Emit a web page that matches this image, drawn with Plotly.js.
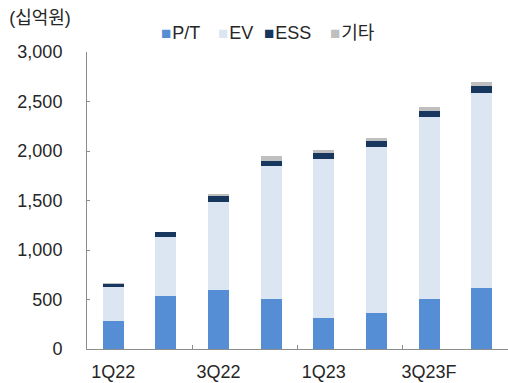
<!DOCTYPE html>
<html>
<head>
<meta charset="utf-8">
<script src="https://cdn.plot.ly/plotly-3.0.1.min.js"></script>
<style>
  html, body { margin: 0; padding: 0; background: #fff; }
  #chart { width: 508px; height: 383px; }
</style>
</head>
<body>
<div id="chart"></div>
<script>
// Quarterly sales by segment (KRW bn)
const quarters = ['1Q22', '2Q22', '3Q22', '4Q22', '1Q23', '2Q23', '3Q23F', '4Q23F'];
const ptSales  = [283, 535, 596, 502, 316, 364, 508, 616];
const evSales  = [346, 593, 886, 1343, 1606, 1681, 1832, 1971];
const essSales = [30, 51, 66, 54, 55, 55, 67, 71];
const etcSales = [5, 6, 17, 48, 32, 33, 35, 38];

const seriesNames  = ['P/T', 'EV', 'ESS', '기타'];
const seriesValues = [ptSales, evSales, essSales, etcSales];
const seriesColors = ['#558ED5', '#DCE6F2', '#17375E', '#BFBFBF'];

const yTicks = [0, 500, 1000, 1500, 2000, 2500, 3000];
const yTickText = ['0', '500', '1,000', '1,500', '2,000', '2,500', '3,000'];

const FONT = '"Liberation Sans", Arial, "Noto Sans CJK KR", sans-serif';
const TEXT = '#262626';
const AXIS = '#8C8C8C';

const traces = seriesNames.map((name, i) => ({
  type: 'bar',
  name: name,
  x: quarters,
  y: seriesValues[i],
  marker: { color: seriesColors[i] },
  showlegend: false,
  hoverinfo: 'x+y+name'
}));

// Legend keys drawn as text: coloured square followed by the series name
const legendX = [0.172, 0.307, 0.416, 0.573];
const legendItems = seriesNames.map((name, i) => ({
  xref: 'paper', yref: 'paper',
  x: legendX[i], y: 1.064,
  xanchor: 'left', yanchor: 'middle',
  showarrow: false,
  text: '<span style="font-size:17px;color:' + seriesColors[i] + '">■</span>' +
        '<span style="font-size:3px"> </span>' + name,
  font: { family: FONT, size: 18, color: TEXT }
}));

const layout = {
  width: 508,
  height: 383,
  margin: { l: 87, r: 0, t: 52, b: 34 },
  paper_bgcolor: '#ffffff',
  plot_bgcolor: '#ffffff',
  barmode: 'stack',
  bargap: 0.6,
  font: { family: FONT, size: 18, color: TEXT },
  title: {
    text: '(십억원)',
    xref: 'container', yref: 'container',
    x: 0.018, xanchor: 'left',
    y: 0.955, yanchor: 'middle',
    font: { family: FONT, size: 18, color: TEXT }
  },
  xaxis: {
    type: 'category',
    tickmode: 'linear',
    tick0: 0,
    dtick: 2,
    tickson: 'boundaries',
    tickangle: 0,
    ticks: 'inside',
    ticklen: 4,
    tickcolor: AXIS,
    showline: true,
    linecolor: AXIS,
    linewidth: 1,
    showgrid: false,
    zeroline: false,
    ticklabelstandoff: 6,
    tickfont: { family: FONT, size: 18, color: TEXT },
    fixedrange: true
  },
  yaxis: {
    range: [0, 3000],
    tickmode: 'array',
    tickvals: yTicks,
    ticktext: yTickText,
    ticks: 'inside',
    ticklen: 3,
    tickcolor: AXIS,
    showline: true,
    linecolor: AXIS,
    linewidth: 1,
    showgrid: false,
    zeroline: false,
    ticklabelstandoff: 20,
    tickfont: { family: FONT, size: 18, color: TEXT },
    fixedrange: true
  },
  annotations: legendItems
};

Plotly.newPlot('chart', traces, layout, { displayModeBar: false, staticPlot: true });
</script>
</body>
</html>
